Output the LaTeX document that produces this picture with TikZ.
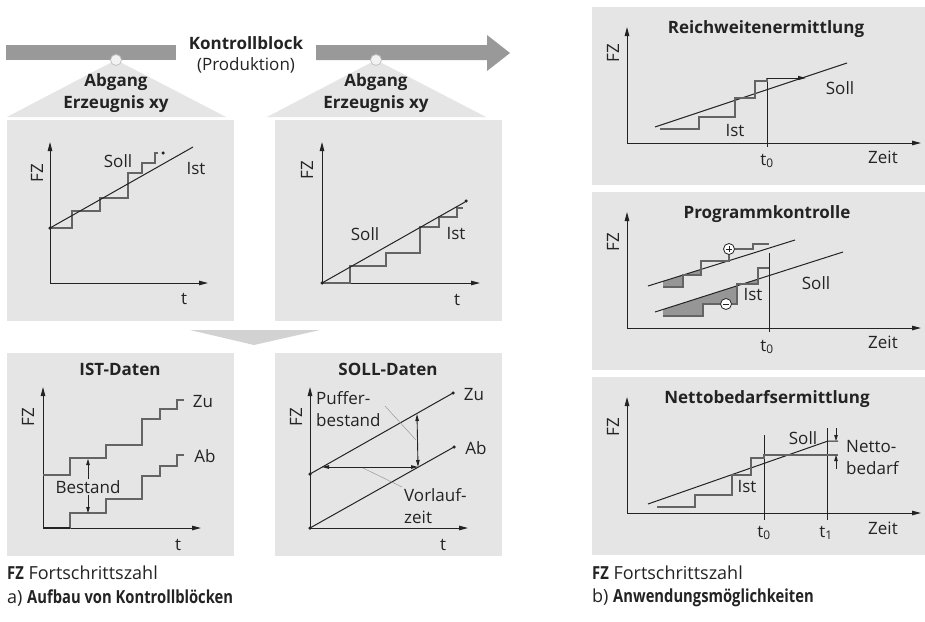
\documentclass[tikz,border=0pt]{standalone}
\usepackage{fontspec}
\setmainfont{Open Sans}
\newfontfamily\legendcond{Open Sans}[FakeStretch=0.82]
\usetikzlibrary{arrows.meta,positioning,calc}
\definecolor{panelgray}{RGB}{229,229,229}
\definecolor{bargray}{RGB}{153,153,153}
\definecolor{funnelgray}{RGB}{210,210,210}
\definecolor{inkdark}{RGB}{35,35,35}
\definecolor{stairgray}{RGB}{100,100,100}
\definecolor{fillgray}{RGB}{150,150,150}
\tikzset{
  panel/.style={fill=panelgray, draw=none},
  axisarrow/.style={-{Triangle[length=9pt,width=4.5pt]}, line width=1pt, inkdark},
  sollline/.style={line width=1pt, inkdark},
  stairs/.style={line width=1.3pt, stairgray},
  lbl/.style={font=\fontsize{17}{22}\selectfont, inner sep=0pt, text=inkdark},
  ttl/.style={font=\fontsize{17}{22}\selectfont\bfseries, inner sep=0pt, text=inkdark},
  fzlabel/.style={lbl, rotate=90},
  legend/.style={font=\fontsize{18}{20}\selectfont, inner sep=0pt, text=inkdark, anchor=west},
  dot/.style={circle, fill=inkdark, inner sep=0pt, minimum size=3.5pt},
  leader/.style={line width=0.5pt, gray!80},
  smallarrow/.style={-{Triangle[length=6pt,width=3.5pt]}, line width=0.8pt, inkdark},
  dimarrow/.style={{Triangle[length=7pt,width=3.5pt]}-{Triangle[length=7pt,width=3.5pt]}, line width=0.9pt, inkdark},
  sign/.style={circle, draw=inkdark, fill=white, line width=0.8pt, inner sep=0pt, minimum size=11pt},
}
\newcommand{\legbold}[1]{{\legendcond\fontsize{18}{20}\selectfont\bfseries #1}}

\begin{document}
\begin{tikzpicture}[x=1pt,y=-1pt]
  \fill[white] (0,0) rectangle (925,621);

  % production flow bar with the two picking points
  \fill[bargray] (6,45) rectangle (176,60);
  \fill[bargray] (316,45) -- (487,45) -- (487,35) -- (510,53) -- (487,71) -- (487,60) -- (316,60) -- cycle;
  \fill[panelgray] (116,60) -- (226,117) -- (7,117) -- cycle;
  \fill[panelgray] (376,60) -- (486,117) -- (267,117) -- cycle;
  \filldraw[fill=panelgray!50!white, draw=bargray!60, line width=0.8pt] (116,60) circle (5.5);
  \filldraw[fill=panelgray!50!white, draw=bargray!60, line width=0.8pt] (376,60) circle (5.5);
  \node[ttl] (kb) at (246,43) {Kontrollblock};
  \node[lbl] (prod) at (246,65) {(Produktion)};
  \node[ttl, align=center] (abg1) at (116,93) {Abgang\\Erzeugnis xy};
  \node[ttl, align=center] (abg2) at (376,93) {Abgang\\Erzeugnis xy};

  % panels
  \fill[panel] (7,120) rectangle (234,321);
  \fill[panel] (275,120) rectangle (502,321);
  \fill[funnelgray] (190,330) -- (320,330) -- (254,345) -- cycle;
  \fill[panel] (7,353) rectangle (234,556);
  \fill[panel] (275,353) rectangle (502,556);
  \fill[panel] (592,7) rectangle (925,185);
  \fill[panel] (592,192) rectangle (925,370);
  \fill[panel] (592,377) rectangle (925,555);

  % first picking point
  \coordinate (o1) at (50,283);
  \draw[axisarrow] (o1) -- (50,142);
  \draw[axisarrow] (o1) -- (208,283);
  \node[fzlabel] (fz1) at (37,173) {FZ};
  \node[lbl] (t1) at (184,299) {t};
  \draw[stairs] (50,228) -| (72,211) -| (100,198) -| (128,173) -| (142,163) -| (155,153) -- (158,153);
  \draw[sollline] (50,228) -- (193,147);
  \node[dot] (d1a) at (50,228) {};
  \node[dot] (d1b) at (163,153) {};
  \node[lbl] (soll1) at (118,161) {Soll};
  \node[lbl] (ist1) at (196,169) {Ist};

  % second picking point
  \coordinate (o2) at (322,283);
  \draw[axisarrow] (o2) -- (322,142);
  \draw[axisarrow] (o2) -- (480,283);
  \node[fzlabel] (fz2) at (307,170) {FZ};
  \node[lbl] (t2) at (457,300) {t};
  \draw[stairs] (322,283) -| (350,266) -| (386,253) -| (420,227) -| (439,217) -| (457,208) -- (463,208);
  \draw[sollline] (o2) -- (465,202);
  \node[dot] (d2a) at (o2) {};
  \node[dot] (d2b) at (466,201) {};
  \node[lbl] (soll2) at (365,234) {Soll};
  \node[lbl] (ist2) at (456,234) {Ist};

  % IST-Daten
  \node[ttl] (istd) at (120,369) {IST-Daten};
  \coordinate (o3) at (43,528);
  \draw[axisarrow] (o3) -- (43,387);
  \draw[axisarrow] (o3) -- (201,528);
  \node[fzlabel] (fz3) at (28,417) {FZ};
  \node[lbl] (t3) at (178,545) {t};
  \draw[stairs] (43,475) -| (70,458) -| (106,445) -| (142,419) -| (160,409) -| (177,400) -- (184,400);
  \draw[stairs] (43,528) -| (70,513) -| (106,499) -| (142,476) -| (160,466) -| (177,455) -- (184,455);
  \draw[line width=1.3pt, inkdark] (o3) -- (70,528);
  \node[lbl] (zu3) at (203,402) {Zu};
  \node[lbl] (ab3) at (205,456) {Ab};
  \node[lbl, inner sep=1pt] (bestand) at (88,487) {Bestand};
  \coordinate (zuhit) at (88,459);
  \coordinate (abhit) at (88,513);
  \draw[smallarrow] (bestand.north) -- (zuhit);
  \draw[smallarrow] (bestand.south) -- (abhit);

  % SOLL-Daten
  \node[ttl] (solld) at (388,369) {SOLL-Daten};
  \coordinate (o4) at (310,528);
  \draw[axisarrow] (o4) -- (310,387);
  \draw[axisarrow] (o4) -- (468,528);
  \node[fzlabel] (fz4) at (296,417) {FZ};
  \node[lbl] (t4) at (443,545) {t};
  \coordinate (zuA) at (310,474);
  \coordinate (zuB) at (453,393);
  \coordinate (abB) at (454,447);
  \draw[sollline] (zuA) -- (zuB);
  \draw[sollline] (o4) -- (abB);
  \node[dot] at (zuA) {};
  \node[dot] at (zuB) {};
  \node[dot] at (o4) {};
  \node[dot] at (abB) {};
  \node[lbl] (zu4) at (474,395) {Zu};
  \node[lbl] (ab4) at (476,448) {Ab};
  \coordinate (vtop) at (417,414);
  \coordinate (corner) at (418,467);
  \coordinate (hleft) at (322,467);
  \draw[dimarrow] (hleft) -- (corner);
  \draw[dimarrow] (vtop) -- (corner);
  \node[lbl, anchor=west, align=left] (puffer) at (316,409) {Puffer-\\bestand};
  \node[lbl, anchor=west, align=left] (vorlauf) at (404,506) {Vorlauf-\\zeit};
  \draw[leader] (385,406) -- (416,440);
  \draw[leader] (363,468) -- (402,487);

  % Reichweitenermittlung
  \node[ttl] (rw) at (766,29) {Reichweitenermittlung};
  \coordinate (o5) at (627,143);
  \draw[axisarrow] (o5) -- (627,27);
  \draw[axisarrow] (o5) -- (921,143);
  \node[fzlabel] (fz5) at (613,53) {FZ};
  \node[lbl] (zeit5) at (883,157) {Zeit};
  \node[lbl] (t05) at (767,161) {t\textsubscript{0}};
  \draw[sollline] (767,78) -- (767,147);
  \draw[sollline] (655,127) -- (847,63);
  \draw[stairs] (660,129) -| (699,117) -| (735,98) -| (755,81) -| (767,78);
  \draw[sollline, -{Triangle[length=8pt,width=4pt]}] (767,78) -- (806,78);
  \node[lbl] (soll5) at (840,88) {Soll};
  \node[lbl] (ist5) at (735,131) {Ist};

  % Programmkontrolle
  \node[ttl] (pk) at (767,214) {Programmkontrolle};
  \coordinate (o6) at (627,328);
  \draw[axisarrow] (o6) -- (627,212);
  \draw[axisarrow] (o6) -- (921,328);
  \node[fzlabel] (fz6) at (613,242) {FZ};
  \node[lbl] (zeit6) at (883,342) {Zeit};
  \node[lbl] (t06) at (767,347) {t\textsubscript{0}};
  \begin{scope}
    \clip (648,286) -- (795,240) -- (795,400) -- (648,400) -- cycle;
    \fill[fillgray] (663,287) -| (683,275) -| (701,261) -| (729,249) -| (753,244) -- (769,244) -- (769,200) -- (663,200) -- cycle;
  \end{scope}
  \begin{scope}
    \clip (655,312) -- (843,252) -- (843,400) -- (655,400) -- cycle;
    \fill[fillgray] (663,316) -| (703,304) -| (737,284) -| (758,268) -- (769,268) -- (769,200) -- (663,200) -- cycle;
  \end{scope}
  \draw[sollline] (769,253) -- (769,332);
  \draw[sollline] (648,286) -- (795,240);
  \draw[sollline] (655,312) -- (843,252);
  \draw[stairs] (663,287) -| (683,275) -| (701,261) -| (729,249) -| (753,244) -- (769,244);
  \draw[stairs] (663,316) -| (703,304) -| (737,284) -| (758,268) -- (769,268);
  \node[sign] (plus) at (729,249) {};
  \draw[line width=1pt, inkdark] ([xshift=-3.2pt]plus.center) -- ([xshift=3.2pt]plus.center)
    ([yshift=-3.2pt]plus.center) -- ([yshift=3.2pt]plus.center);
  \node[sign] (minus) at (726,304) {};
  \draw[line width=1pt, inkdark] ([xshift=-3pt]minus.center) -- ([xshift=3pt]minus.center);
  \node[lbl] (soll6) at (816,283) {Soll};
  \node[lbl] (ist6) at (753,295) {Ist};

  % Nettobedarfsermittlung
  \node[ttl] (nb) at (767,399) {Nettobedarfsermittlung};
  \coordinate (o7) at (627,513);
  \draw[axisarrow] (o7) -- (627,397);
  \draw[axisarrow] (o7) -- (921,513);
  \node[fzlabel] (fz7) at (613,427) {FZ};
  \node[lbl] (zeit7) at (883,528) {Zeit};
  \node[lbl] (t07) at (764,533) {t\textsubscript{0}};
  \node[lbl] (t17) at (826,533) {t\textsubscript{1}};
  \draw[sollline] (764,435) -- (764,520);
  \draw[sollline] (827,428) -- (827,520);
  \draw[sollline] (648,504) -- (828,441) -- (838,441);
  \draw[stairs] (657,507) -| (695,495) -| (732,475) -| (751,458) -| (764,455) -- (838,455);
  \coordinate (nbtop) at (836,441);
  \coordinate (nbbot) at (836,455);
  \draw[smallarrow] (836,428) -- (nbtop);
  \draw[smallarrow] (836,469) -- (nbbot);
  \node[lbl, anchor=west, align=left] (netto) at (846,458) {Netto-\\bedarf};
  \node[lbl] (soll7) at (803,438) {Soll};
  \node[lbl] (ist7) at (747,487) {Ist};

  % legends
  \node[legend] (fza) at (7,573) {\legbold{FZ} Fortschrittszahl};
  \node[legend] (capa) at (7,598) {a) \legbold{Aufbau von Kontrollblöcken}};
  \node[legend] (fzb) at (592,573) {\legbold{FZ} Fortschrittszahl};
  \node[legend] (capb) at (592,598) {b) \legbold{Anwendungsmöglichkeiten}};
\end{tikzpicture}
\end{document}
